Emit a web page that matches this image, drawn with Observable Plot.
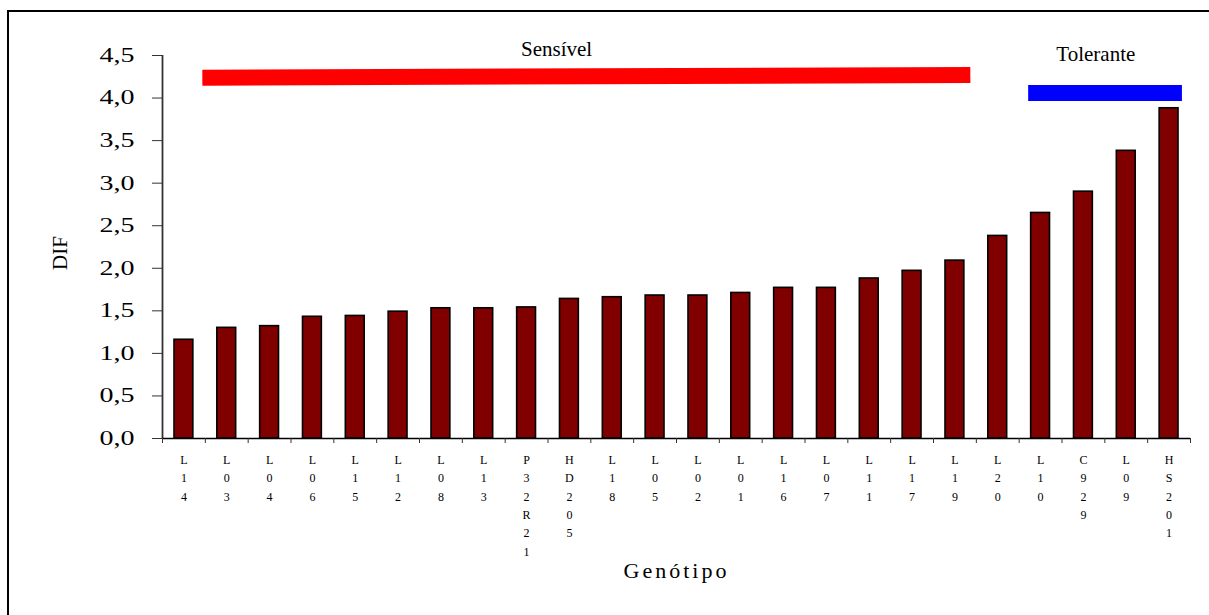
<!DOCTYPE html>
<html>
<head>
<meta charset="utf-8">
<script src="https://cdn.jsdelivr.net/npm/d3@7"></script>
<script src="https://cdn.jsdelivr.net/npm/@observablehq/plot@0.6"></script>
<style>
  html, body { margin: 0; padding: 0; background: #fff; }
  #wrap { position: relative; width: 1209px; height: 615px; overflow: hidden; }
  #border { position: absolute; left: 7px; top: 10px; right: -10px; bottom: -10px;
            border-left: 2px solid #000; border-top: 2px solid #000; pointer-events: none; }
</style>
</head>
<body>
<div id="wrap"><div id="border"></div></div>
<script>
// Genotypes (x categories) and DIF values
const genotypes = ["L14","L03","L04","L06","L15","L12","L08","L13","P32R21","HD205","L18","L05","L02","L01","L16","L07","L11","L17","L19","L20","L10","C929","L09","HS201"];
const difValues = [1.16,1.30,1.32,1.43,1.44,1.49,1.53,1.53,1.54,1.64,1.66,1.68,1.68,1.71,1.77,1.77,1.88,1.97,2.09,2.38,2.65,2.90,3.38,3.88];
const yTicks = [0, 0.5, 1, 1.5, 2, 2.5, 3, 3.5, 4, 4.5];

// Group annotation bars (x in genotype index units, y in DIF units)
const groupNames = ["Sensível", "Tolerante"];
const groupStart = [0.43, 19.71];
const groupEnd = [18.36, 23.30];
const groupLevelStart = [4.24, 4.06];
const groupLevelEnd = [4.27, 4.06];
const groupLabelX = [8.70, 21.29];
const groupLabelY = [4.50, 4.43];
const groupColors = ["#ff0000", "#0000ff"];

const data = genotypes.map((g, i) => ({g, i, v: difValues[i]}));
const groups = groupNames.map((n, k) => ({
  n, x1: groupStart[k], x2: groupEnd[k], y1: groupLevelStart[k], y2: groupLevelEnd[k],
  lx: groupLabelX[k], ly: groupLabelY[k], c: groupColors[k]
}));

const serif = "'Liberation Serif', 'Times New Roman', serif";
const fmt = d => d3.format(".1f")(d).replace(".", ",");
const xMin = -0.5, xMax = genotypes.length - 0.5;

const chart = Plot.plot({
  width: 1209,
  height: 615,
  marginLeft: 162,
  marginRight: 19,
  marginTop: 55,
  marginBottom: 177,
  style: {fontFamily: serif, background: "transparent", color: "#000"},
  x: {type: "linear", domain: [xMin, xMax]},
  y: {domain: [0, 4.5]},
  marks: [
    // bars
    Plot.rectY(data, {
      x1: d => d.i - 0.5, x2: d => d.i + 0.5, y: "v",
      insetLeft: 12, insetRight: 12,
      fill: "#800000", stroke: "#000", strokeWidth: 1.6
    }),
    // y axis
    Plot.axisY({
      ticks: yTicks, tickFormat: fmt, tickSize: 10, tickPadding: 18,
      fontSize: 20, stroke: "#333", label: null
    }),
    Plot.ruleX([xMin], {y1: 0, y2: 4.5, stroke: "#333", strokeWidth: 1.8}),
    // x axis line and boundary ticks
    Plot.ruleY([0], {x1: xMin, x2: xMax, stroke: "#000", strokeWidth: 1.3}),
    Plot.axisX({
      ticks: d3.range(genotypes.length + 1).map(i => i - 0.5),
      tickFormat: () => "", tickSize: 5, stroke: "#333", label: null
    }),
    // vertical stacked category labels
    Plot.text(data, {
      x: "i", y: 0, text: d => d.g.split("").join("\n"),
      lineAnchor: "top", dy: 12.5, lineHeight: 1.53, fontSize: 12, fill: "#000"
    }),
    // group bars
    Plot.link(groups, {
      x1: "x1", y1: "y1", x2: "x2", y2: "y2",
      stroke: d => d.c, strokeWidth: 16, strokeLinecap: "butt"
    }),
    Plot.text(groups, {
      x: "lx", y: "ly", text: "n", lineAnchor: "bottom", fontSize: 21, fill: "#000"
    }),
    // axis titles
    Plot.text(["DIF"], {
      frameAnchor: "left", rotate: -90, dx: -102, dy: 23, fontSize: 21, fill: "#000"
    }),
    Plot.text(["Genótipo"], {
      frameAnchor: "bottom", dy: 139, fontSize: 22, fill: "#000"
    })
  ]
});

document.getElementById("wrap").prepend(chart);
chart.style.position = "absolute";
chart.style.left = "0px";
chart.style.top = "0px";

// Widen the y tick labels (the reference draws them horizontally stretched)
d3.select(chart).selectAll("text").each(function() {
  const t = d3.select(this);
  const s = t.text();
  if (/^\d,\d$/.test(s)) {
    t.attr("textLength", 35).attr("lengthAdjust", "spacingAndGlyphs");
  }
  if (s === "Genótipo") {
    t.style("letter-spacing", "3px");
  }
});
</script>
</body>
</html>
